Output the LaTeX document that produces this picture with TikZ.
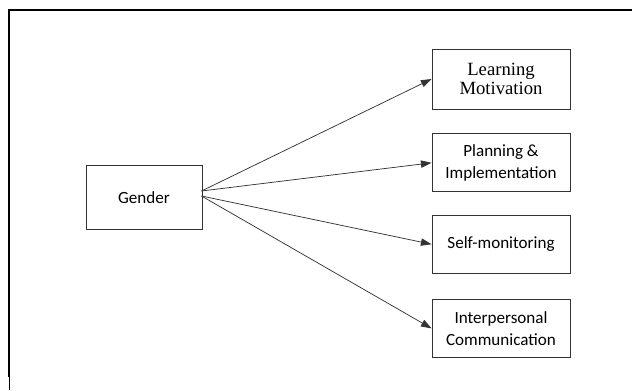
\documentclass[tikz,border=0pt]{standalone}
\usepackage{fontspec}
\setmainfont{Carlito}
\newfontfamily\serifbox{Liberation Serif}
\usetikzlibrary{arrows.meta, positioning}

\tikzset{
    factor/.style={draw=black!80, line width=0.6pt, minimum width=103.5pt,
        minimum height=43.5pt, align=center, inner sep=2pt,
        font=\fontsize{12.8pt}{16.2pt}\selectfont},
    link/.style={draw=black!80, line width=0.55pt,
        -{Triangle[length=8pt, width=5.5pt]}}
}

\begin{document}
\begin{tikzpicture}[x=0.75pt, y=-0.75pt]
    \useasboundingbox (0,0) rectangle (632,390);

    % outer frame (open on the right and at the bottom)
    \draw[line width=1.3pt] (9,377) -- (9,10) -- (632,10);
    \draw[line width=0.5pt] (9,377) -- (9,390);

    \node[factor, minimum width=87pt, minimum height=48pt] (gender) at (144,197.5) {Gender};

    \node[factor, minimum height=45pt, font=\serifbox\fontsize{14pt}{14.8pt}\selectfont]
        (motiv) at (501,79) {Learning\\Motivation};
    \node[factor, below=18pt of motiv] (plan) {Planning \&\\Implementation};
    \node[factor, below=17pt of plan] (monitor) {Self-monitoring};
    \node[factor, below=19pt of monitor] (comm) {Interpersonal\\Communication};

    \coordinate (gu) at (201.5,191);
    \coordinate (gd) at (201.5,196);

    \draw[link] (gu) -- (motiv.west);
    \draw[link] (gu) -- (plan.west);
    \draw[link] (gd) -- (monitor.west);
    \draw[link] (gd) -- (comm.west);
\end{tikzpicture}
\end{document}
